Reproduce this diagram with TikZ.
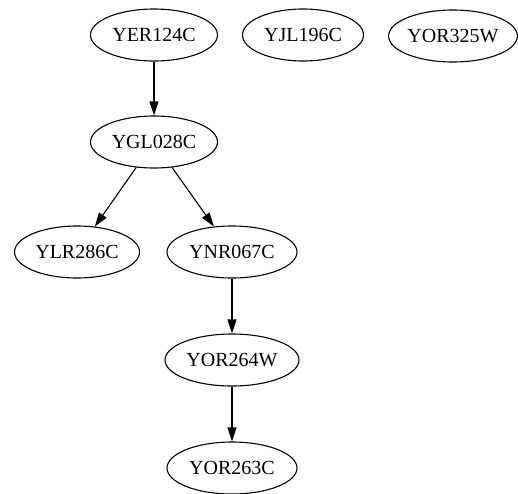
\documentclass[tikz,border=0pt]{standalone}
\usepackage{fontspec}
\setmainfont{Liberation Serif}
\usetikzlibrary{shapes.geometric,arrows.meta}
\begin{document}
\begin{tikzpicture}[x=1pt,y=-1pt,
  gene/.style={draw=black,ellipse,line width=1.1pt,inner sep=0pt,
    minimum width=127pt,minimum height=52pt,
    font=\fontsize{20}{21}\selectfont},
  link/.style={draw=black,line width=1.1pt,-{Triangle[length=14pt,width=9pt]}}]
\fill[white] (0,0) rectangle (518,493);
\useasboundingbox (0,0) rectangle (518,493);
\node[gene] (yer) at (154,35) {YER124C};
\node[gene,minimum width=121pt] (yjl) at (303,35) {YJL196C};
\node[gene,minimum width=127pt] (yor325) at (453,36) {YOR325W};
\node[gene] (ygl) at (154,142) {YGL028C};
\node[gene,minimum width=125pt] (ylr) at (77,252) {YLR286C};
\node[gene,minimum width=130pt] (ynr) at (232,252) {YNR067C};
\node[gene,minimum width=134pt] (yor264) at (232,360) {YOR264W};
\node[gene,minimum width=130pt] (yor263) at (232,468) {YOR263C};
\draw[link] (yer) -- (ygl);
\draw[link] (ygl) -- (ylr);
\draw[link] (ygl) -- (ynr);
\draw[link] (ynr) -- (yor264);
\draw[link] (yor264) -- (yor263);
\end{tikzpicture}
\end{document}
